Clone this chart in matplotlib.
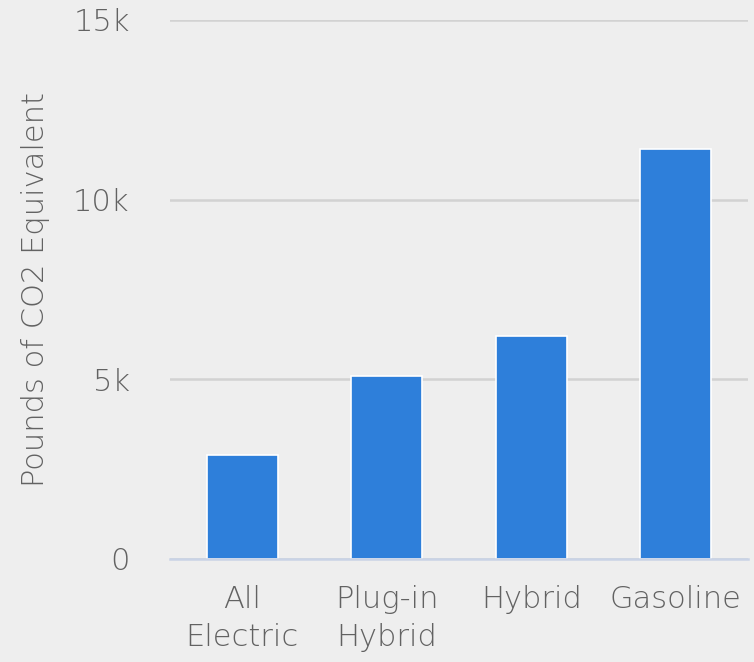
import matplotlib
matplotlib.use("Agg")
import matplotlib.pyplot as plt
from matplotlib.ticker import FixedLocator, FixedFormatter

categories = ["All\nElectric", "Plug-in\nHybrid", "Hybrid", "Gasoline"]
values = [2900, 5100, 6200, 11400]
ytick_values = [0, 5000, 10000, 15000]
ytick_labels = ["0", "5k", "10k", "15k"]

plt.rcParams['font.family'] = ['DejaVu Sans']
bg = "#eeeeee"
text_color = "#626262"
fs = 22

fig = plt.figure(figsize=(7.54, 6.62), dpi=100, facecolor=bg)
ax = fig.add_axes([0.2255, 0.1556, 0.7665, 0.8142], facecolor=bg)

x = list(range(len(categories)))
ax.bar(x, values, width=0.49, color="#2e7fda", edgecolor="white", linewidth=1.2, zorder=3)

ax.set_xlim(-0.5, len(categories) - 0.5)
ax.set_ylim(0, 15000)
ax.yaxis.set_major_locator(FixedLocator(ytick_values))
ax.yaxis.set_major_formatter(FixedFormatter(ytick_labels))
ax.set_xticks(x)
ax.set_xticklabels(categories, linespacing=1.38)

ax.grid(axis="y", color="#d2d2d2", linewidth=1.8, zorder=0)
ax.set_axisbelow(True)
for s in ["top", "right", "left"]:
    ax.spines[s].set_visible(False)
ax.spines["bottom"].set_color("#c9d3e6")
ax.spines["bottom"].set_linewidth(1.8)
ax.spines["bottom"].set_zorder(4)

ax.tick_params(axis="y", length=0, pad=29, labelsize=fs, labelcolor=text_color)
ax.tick_params(axis="x", length=0, pad=19, labelsize=fs, labelcolor=text_color)
for lbl in ax.get_xticklabels() + ax.get_yticklabels():
    lbl.set_fontweight("light")

ax.set_ylabel("Pounds of CO2 Equivalent", fontsize=fs, color=text_color,
              labelpad=17, fontweight="light")

fig.savefig("out.png", dpi=100, facecolor=bg)
